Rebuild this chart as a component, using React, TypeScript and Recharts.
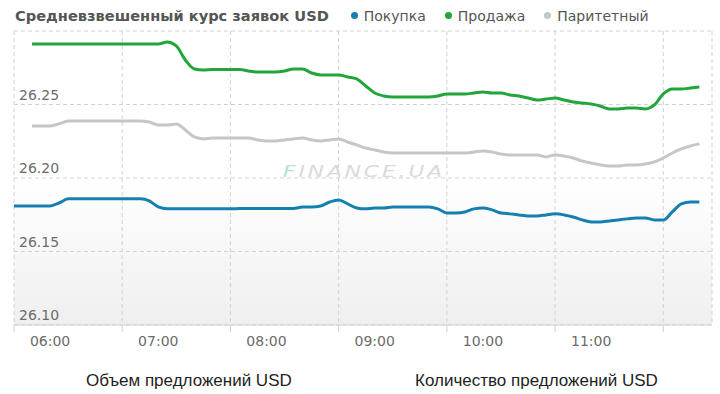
import React from 'react';
import { LineChart, Line, XAxis, YAxis, CartesianGrid } from 'recharts';

// время (каждые 5 минут)
const times = [
  '05:40', '05:45', '05:50', '05:55', '06:00', '06:05', '06:10', '06:15', '06:20', '06:25', '06:30', '06:35',
  '06:40', '06:45', '06:50', '06:55', '07:00', '07:05', '07:10', '07:15', '07:20', '07:25', '07:30', '07:35',
  '07:40', '07:45', '07:50', '07:55', '08:00', '08:05', '08:10', '08:15', '08:20', '08:25', '08:30', '08:35',
  '08:40', '08:45', '08:50', '08:55', '09:00', '09:05', '09:10', '09:15', '09:20', '09:25', '09:30', '09:35',
  '09:40', '09:45', '09:50', '09:55', '10:00', '10:05', '10:10', '10:15', '10:20', '10:25', '10:30', '10:35',
  '10:40', '10:45', '10:50', '10:55', '11:00', '11:05', '11:10', '11:15', '11:20', '11:25', '11:30', '11:35',
  '11:40', '11:45', '11:50', '11:55', '12:00',
];

const pokupka = [
  26.181, 26.181, 26.181, 26.181, 26.181, 26.183, 26.1858, 26.1858, 26.1858, 26.1858, 26.1858, 26.1858,
  26.1858, 26.1858, 26.1858, 26.1844, 26.1803, 26.179, 26.179, 26.179, 26.179, 26.179, 26.179, 26.179,
  26.179, 26.1793, 26.1793, 26.1793, 26.1793, 26.1793, 26.1793, 26.1793, 26.1803, 26.1803, 26.181, 26.1837,
  26.1851, 26.1824, 26.1796, 26.179, 26.1796, 26.1796, 26.1803, 26.1803, 26.1803, 26.1803, 26.1803, 26.179,
  26.1762, 26.1762, 26.1769, 26.179, 26.1796, 26.1783, 26.1762, 26.1756, 26.1749, 26.1742, 26.1742, 26.1749,
  26.1756, 26.1749, 26.1735, 26.1715, 26.1701, 26.1701, 26.1708, 26.1715, 26.1722, 26.1728, 26.1728, 26.1715,
  26.1715, 26.1769, 26.1824, 26.1837, 26.1837,
];

const prodazha = [
  null, null, 26.2912, 26.2912, 26.2912, 26.2912, 26.2912, 26.2912, 26.2912, 26.2912, 26.2912, 26.2912,
  26.2912, 26.2912, 26.2912, 26.2912, 26.2912, 26.2925, 26.2898, 26.2803, 26.2742, 26.2735, 26.2738, 26.2738,
  26.2738, 26.2738, 26.2728, 26.2721, 26.2721, 26.2721, 26.2728, 26.2742, 26.2742, 26.2714, 26.2701, 26.2701,
  26.2701, 26.2687, 26.2674, 26.2626, 26.2578, 26.2558, 26.2551, 26.2551, 26.2551, 26.2551, 26.2551, 26.2558,
  26.2572, 26.2572, 26.2572, 26.2578, 26.2585, 26.2578, 26.2578, 26.2565, 26.2558, 26.2544, 26.2531, 26.2537,
  26.2544, 26.2531, 26.2517, 26.251, 26.2503, 26.249, 26.247, 26.247, 26.2476, 26.2476, 26.247, 26.2497,
  26.2572, 26.2606, 26.2606, 26.2612, 26.2619,
];

const paritet = [
  null, null, 26.2354, 26.2354, 26.2354, 26.2368, 26.2388, 26.2388, 26.2388, 26.2388, 26.2388, 26.2388,
  26.2388, 26.2388, 26.2388, 26.2381, 26.2361, 26.2361, 26.2368, 26.2327, 26.2279, 26.2266, 26.2272, 26.2272,
  26.2272, 26.2272, 26.2272, 26.2259, 26.2252, 26.2252, 26.2259, 26.2266, 26.2272, 26.2259, 26.2252, 26.2259,
  26.2266, 26.2245, 26.2225, 26.2204, 26.2191, 26.2177, 26.217, 26.217, 26.217, 26.217, 26.217, 26.217,
  26.217, 26.217, 26.217, 26.2177, 26.2184, 26.2177, 26.2163, 26.2157, 26.2157, 26.2157, 26.2157, 26.2143,
  26.2157, 26.215, 26.2136, 26.2116, 26.2102, 26.2089, 26.2082, 26.2082, 26.2089, 26.2089, 26.2095, 26.2109,
  26.2136, 26.217, 26.2198, 26.2218, 26.2232,
];

const yTicks = [26.1, 26.15, 26.2, 26.25, 26.3];
// деления оси - каждые :40
const xTicks = ['05:40', '06:40', '07:40', '08:40', '09:40', '10:40', '11:40'];
const xDomainEnd = '12:07';

const series = [
  { key: 'pokupka', name: 'Покупка', color: '#1580b0' },
  { key: 'prodazha', name: 'Продажа', color: '#22a53a' },
  { key: 'paritet', name: 'Паритетный', color: '#c6c6c6' },
];

const toMin = (s: string) => {
  const [h, m] = s.split(':').map(Number);
  return h * 60 + m;
};
const fromMin = (v: number) => {
  const h = Math.floor(v / 60);
  const m = v % 60;
  return `${String(h).padStart(2, '0')}:${String(m).padStart(2, '0')}`;
};

const data = times.map((t, i) => ({
  t: toMin(t),
  pokupka: pokupka[i],
  prodazha: prodazha[i],
  paritet: paritet[i],
}));

const FONT = '"DejaVu Sans", Verdana, sans-serif';
const HOUR_PX = 108.2;

const XTick = (props: any) => {
  const { x, y, payload, index } = props;
  if (index === xTicks.length - 1) return <g />;
  // подпись часа правее деления на 20 минут
  return (
    <text x={x + (HOUR_PX * 20) / 60} y={y + 12} textAnchor="middle" fill="#6b6b6b" fontSize={14} fontFamily={FONT}>
      {fromMin(payload.value + 20)}
    </text>
  );
};

const YTick = (props: any) => {
  const { x, y, payload } = props;
  if (payload.value >= 26.3) return <g />;
  return (
    <text x={x} y={y - 5} textAnchor="start" fill="#6b6b6b" fontSize={14} fontFamily={FONT}>
      {payload.value.toFixed(2)}
    </text>
  );
};

const bottomLabel: React.CSSProperties = {
  position: 'absolute',
  top: 371,
  fontSize: 17,
  color: '#1e1e1e',
  fontFamily: '"Liberation Sans", Arial, sans-serif',
};

export default function App() {
  return (
    <div style={{ position: 'absolute', left: 0, top: 0, width: 720, height: 394, background: '#fff', fontFamily: FONT }}>
      <div style={{ position: 'absolute', left: 15, top: 7, display: 'flex', alignItems: 'center', whiteSpace: 'nowrap' }}>
        <span style={{ fontWeight: 'bold', fontSize: 14.6, color: '#555' }}>Средневзвешенный курс заявок USD</span>
        {series.map((s, i) => (
          <span key={s.key} style={{ display: 'flex', alignItems: 'center', marginLeft: i === 0 ? 22 : 19, fontSize: 14, color: '#555' }}>
            <span style={{ width: 7, height: 7, borderRadius: 4, background: s.color, marginRight: 6 }} />
            {s.name}
          </span>
        ))}
      </div>

      <LineChart width={720} height={394} data={data} margin={{ top: 31, right: 8, left: 14, bottom: 0 }}>
        <defs>
          <linearGradient id="plotBg" x1="0" y1="0" x2="0" y2="1">
            <stop offset="0%" stopColor="#ffffff" />
            <stop offset="50%" stopColor="#ffffff" />
            <stop offset="100%" stopColor="#efefef" />
          </linearGradient>
        </defs>
        <CartesianGrid strokeDasharray="4 3" stroke="#d2d2d2" fill="url(#plotBg)" />
        <XAxis
          dataKey="t"
          type="number"
          domain={[toMin(xTicks[0]), toMin(xDomainEnd)]}
          ticks={xTicks.map(toMin)}
          height={69}
          tickSize={7}
          axisLine={{ stroke: '#d0d0d0' }}
          tickLine={{ stroke: '#d0d0d0' }}
          tick={<XTick />}
          interval={0}
        />
        <YAxis
          type="number"
          domain={[26.1, 26.3]}
          ticks={yTicks}
          width={40}
          mirror
          axisLine={false}
          tickLine={false}
          tickSize={0}
          tickMargin={5}
          tick={<YTick />}
          interval={0}
        />
        {series.map((s) => (
          <Line
            key={s.key}
            dataKey={s.key}
            name={s.name}
            type="monotone"
            stroke={s.color}
            strokeWidth={3}
            dot={false}
            connectNulls={false}
            isAnimationActive={false}
          />
        ))}
      </LineChart>

      <div
        style={{
          position: 'absolute',
          left: 283,
          top: 163,
          fontSize: 15,
          fontStyle: 'italic',
          letterSpacing: 2,
          color: '#dadada',
          transform: 'scaleX(1.45)',
          transformOrigin: 'left center',
          pointerEvents: 'none',
        }}
      >
        <span style={{ color: '#b5e0d6' }}>F</span>INANCE.UA
      </div>

      <div style={{ ...bottomLabel, left: 86 }}>Объем предложений USD</div>
      <div style={{ ...bottomLabel, left: 415 }}>Количество предложений USD</div>
    </div>
  );
}
